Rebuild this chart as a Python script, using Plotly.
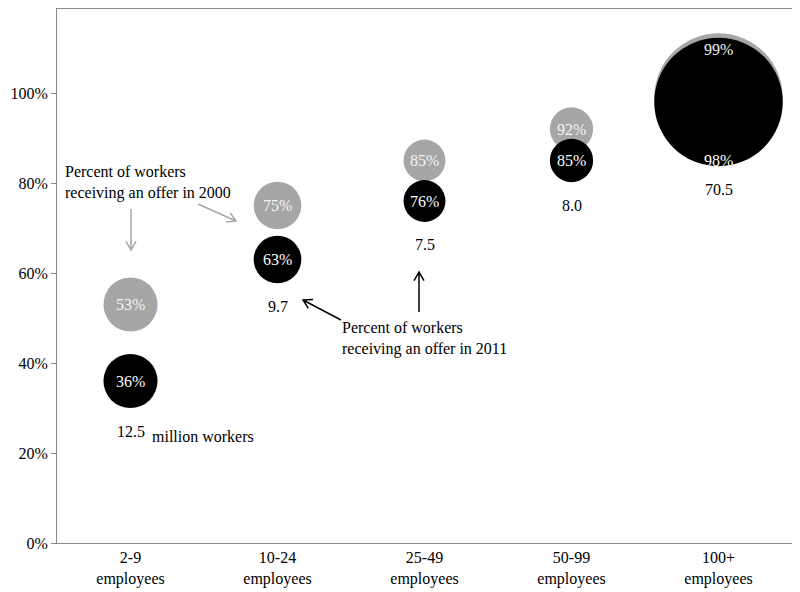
import math
import plotly.graph_objects as go

# ---- data ----
categories = ["2-9<br>employees", "10-24<br>employees", "25-49<br>employees",
              "50-99<br>employees", "100+<br>employees"]
pct_2000 = [0.53, 0.75, 0.85, 0.92, 0.99]
pct_2011 = [0.36, 0.63, 0.76, 0.85, 0.98]
workers_millions = [12.5, 9.7, 7.5, 8.0, 70.5]
worker_labels = ["12.5", "9.7", "7.5", "8.0", "70.5"]

# ---- style ----
# the page body has an 8px margin, so the figure is drawn 8px right/down
OFF = 8
W, H = 800 - OFF, 592 - OFF
PL, PR, PT, PB = 57, 792, 9, 543        # plot area in page pixels
ML, MT = PL - OFF, PT - OFF
MR = W - (PR - OFF)
MB = H - (PB - OFF)
GRAY = "#a6a6a6"
AXIS = "#8a8a8a"
FONT = "Liberation Serif"
FS = 16
SIZEREF = 0.00854
YMAX = (PB - PT) / 450.0

pw, ph = PR - PL, PB - PT


def radius(v):
    return math.sqrt(v / (2 * SIZEREF))


fig = go.Figure()
fig.add_trace(go.Scatter(
    x=categories, y=pct_2000, mode="markers", name="2000",
    marker=dict(size=workers_millions, sizemode="area", sizeref=SIZEREF,
                color=GRAY, line=dict(width=0), opacity=1),
    hoverinfo="skip"))
fig.add_trace(go.Scatter(
    x=categories, y=pct_2011, mode="markers", name="2011",
    marker=dict(size=workers_millions, sizemode="area", sizeref=SIZEREF,
                color="black", line=dict(width=0), opacity=1),
    hoverinfo="skip"))

annotations = []
n = len(categories)
for i in range(n):
    big = workers_millions[i] > 50
    r = radius(workers_millions[i])
    annotations.append(dict(
        x=categories[i], y=pct_2000[i], xref="x", yref="y",
        text=f"{round(pct_2000[i]*100)}%", showarrow=False,
        yshift=(r - 16) if big else 0,
        font=dict(family=FONT, size=FS, color="#f4f4f4")))
    annotations.append(dict(
        x=categories[i], y=pct_2011[i], xref="x", yref="y",
        text=f"{round(pct_2011[i]*100)}%", showarrow=False,
        yshift=-(r - 6) if big else 0,
        font=dict(family=FONT, size=FS, color="white")))
    annotations.append(dict(
        x=categories[i], y=pct_2011[i], xref="x", yref="y",
        text=worker_labels[i], showarrow=False,
        yshift=-(r + 23),
        font=dict(family=FONT, size=FS, color="black")))


def px2paper(px, py):
    return (px - PL) / pw, (PB - py) / ph


def add_text(px, py, text, anchor="left"):
    x, y = px2paper(px, py)
    annotations.append(dict(x=x, y=y, xref="paper", yref="paper", text=text,
                            showarrow=False, xanchor=anchor, yanchor="middle",
                            align="left",
                            font=dict(family=FONT, size=FS, color="black")))


add_text(150, 436, "million workers")
add_text(63, 182, "Percent of workers<br>receiving an offer in 2000")
add_text(340, 338.5, "Percent of workers<br>receiving an offer in 2011")

shapes = []


def arrow(x0, y0, x1, y1, color):
    ang = math.atan2(y1 - y0, x1 - x0)
    L, a = 10, math.radians(30)
    hx1 = x1 - L * math.cos(ang - a)
    hy1 = y1 - L * math.sin(ang - a)
    hx2 = x1 - L * math.cos(ang + a)
    hy2 = y1 - L * math.sin(ang + a)
    pts = [px2paper(x0, y0), px2paper(x1, y1), px2paper(hx1, hy1), px2paper(hx2, hy2)]
    path = (f"M {pts[0][0]} {pts[0][1]} L {pts[1][0]} {pts[1][1]} "
            f"M {pts[2][0]} {pts[2][1]} L {pts[1][0]} {pts[1][1]} L {pts[3][0]} {pts[3][1]}")
    shapes.append(dict(type="path", xref="paper", yref="paper", path=path,
                       line=dict(color=color, width=1.5)))


arrow(131, 209, 131, 250, GRAY)
arrow(198, 204, 236, 221, GRAY)
arrow(341, 320, 303, 300, "black")
arrow(419, 312, 419, 272, "black")

fig.update_layout(
    width=W, height=H,
    margin=dict(l=ML, r=MR, t=MT, b=MB, autoexpand=False),
    paper_bgcolor="white", plot_bgcolor="white",
    showlegend=False,
    annotations=annotations, shapes=shapes,
    font=dict(family=FONT, size=FS, color="black"),
    xaxis=dict(type="category", range=[-0.5, n - 0.5], showgrid=False,
               showline=True, linecolor=AXIS, linewidth=1, mirror=True,
               ticks="", tickfont=dict(family=FONT, size=FS, color="black"),
               zeroline=False, automargin=False),
    yaxis=dict(range=[0, YMAX], tickvals=[0, 0.2, 0.4, 0.6, 0.8, 1.0],
               tickformat=".0%", showgrid=False, showline=True, linecolor=AXIS,
               linewidth=1, mirror=True, ticks="outside", ticklen=5,
               tickcolor=AXIS, tickfont=dict(family=FONT, size=FS, color="black"),
               zeroline=False, automargin=False),
)

fig.write_html("out.html")
